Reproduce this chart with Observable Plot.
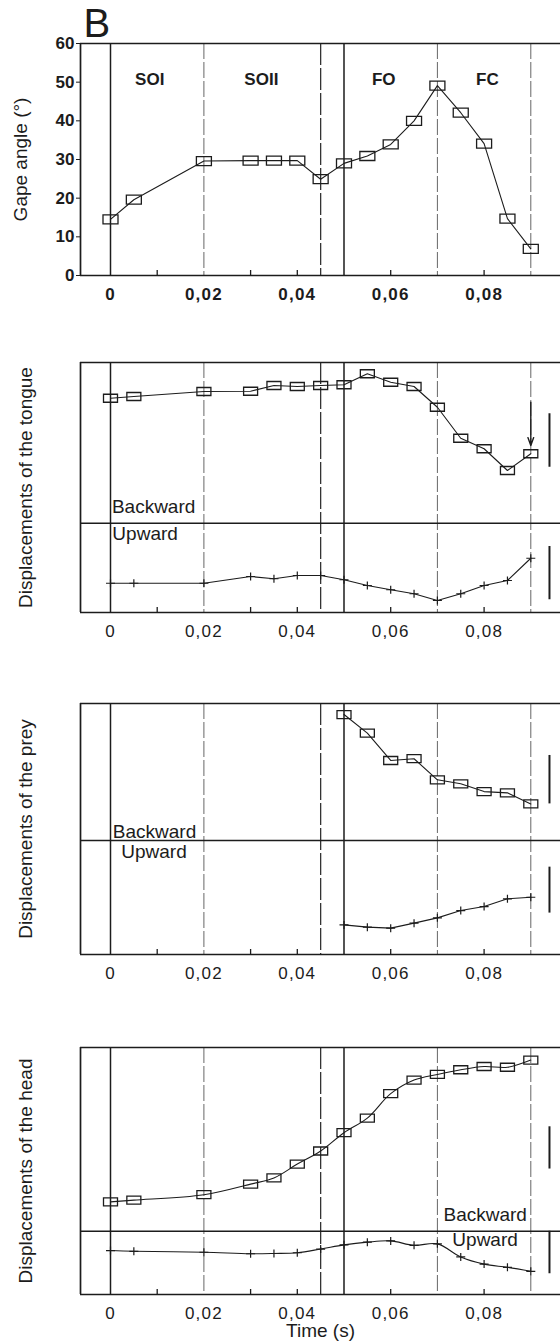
<!DOCTYPE html>
<html><head><meta charset="utf-8">
<script src="https://cdn.jsdelivr.net/npm/d3@7"></script>
<script src="https://cdn.jsdelivr.net/npm/@observablehq/plot@0.6"></script>
<style>
body{margin:0;background:#fff;overflow:hidden;}
#wrap{position:relative;width:560px;height:1342px;background:#fff;}
#wrap svg{position:absolute;left:0;}
</style></head><body><div id="wrap"></div>
<script>
// ---- data ----
const time = [0,0.005,0.02,0.03,0.035,0.04,0.045,0.05,0.055,0.06,0.065,0.07,0.075,0.08,0.085,0.09];
const gapeAngle = [14.5,19.6,29.6,29.7,29.7,29.7,24.9,29,30.9,33.9,40,49.1,42.1,34.1,14.7,6.9];
const tongueBackward = [85.7,86.4,88.4,88.5,90.8,90.4,90.8,91.1,95.5,92.1,90.4,82.1,69.7,65.5,56.8,63.5];
const tongueUpward = [11.7,11.7,11.7,14.4,13.5,14.8,14.8,13.1,10.8,9.1,7.5,4.8,7.5,10.8,12.8,21.7];
const preyTime = [0.05,0.055,0.06,0.065,0.07,0.075,0.08,0.085,0.09];
const preyBackward = [95.6,88.2,77.3,78,69.6,68,64.9,64.4,60];
const preyUpward = [11.8,10.9,10.5,12.5,14.6,17.5,19.1,22.2,22.8];
const headBackward = [37.5,38.2,40.4,44.7,47.2,52.8,58.1,65.5,71.4,81.3,86.8,89.1,91,92.3,92,94.9];
const headUpward = [17.8,17.5,17.1,16.5,16.6,16.9,18.4,20.1,21.2,21.7,19.9,20.5,15.2,12.3,11,9.4];

const phaseNames = ["SOI","SOII","FO","FC"];
const phaseCenters = [0.0084,0.0323,0.0585,0.0807];
const solidLines = [0,0.05];
const dashedLines = [0.02,0.07,0.09];
const darkDashedLines = [0.045];
const xLabelTicks = [0,0.02,0.04,0.06,0.08];
const xMinorTicks = [0.01,0.03,0.04,0.06,0.08];
const gapeTicks = [0,10,20,30,40,50,60];
const xDomain = [-0.006424,0.09636];
const gapeDomain = [0,60];
const dispDomain = [0,100];
const scaleBarTime = 0.094;

const tongueBase = 35.7, preyBase = 45.4, headBase = 25.6;
const tongueBars = [[79.5,58.1],[26.4,5.1]];
const preyBars = [[79.3,60],[34.8,16.5]];
const headBars = [[67.9,50.8],[25.6,8.4]];
const tongueLabels = [{t:0.0003,v:42.1,s:"Backward"},{t:0.0004,v:31.6,s:"Upward"}];
const preyLabels = [{t:0.0005,v:48.7,s:"Backward"},{t:0.0023,v:40.8,s:"Upward"}];
const headLabels = [{t:0.0713,v:32.1,s:"Backward"},{t:0.0732,v:22.1,s:"Upward"}];
const tongueArrow = [{t:0.09,from:84.1,to:66.8}];

// ---- helpers ----
const INK = "#1c1c1c";
const FONT = "'Liberation Sans', Arial, Helvetica, sans-serif";
const rectSym = (w,h) => ({draw(ctx){ ctx.rect(-w/2,-h/2,w,h); }});
const plusSym = {draw(ctx){ ctx.moveTo(-4.5,0); ctx.lineTo(4.5,0); ctx.moveTo(0,-4); ctx.lineTo(0,4); }};
const fmt = d => d === 0 ? "0" : d.toFixed(2).replace(".", ",");
const zip = (ts, vs) => ts.map((t,i) => ({t, v: vs[i]}));

function panel({top, height, mT, mB, yDomain, marks, bold}) {
  const inner = height - mT - mB;
  const svg = Plot.plot({
    width: 560, height, marginTop: mT, marginBottom: mB, marginLeft: 80, marginRight: 0,
    style: {fontFamily: FONT, fontSize: "17px", background: "transparent", color: INK},
    x: {domain: xDomain, label: null},
    y: {domain: yDomain, axis: null, label: null},
    marks: [
      Plot.ruleX(dashedLines, {stroke: "#666", strokeWidth: 1, strokeDasharray: "16,3"}),
      Plot.ruleX(darkDashedLines, {stroke: "#333", strokeWidth: 1.3, strokeDasharray: "22,3"}),
      Plot.ruleX(solidLines, {stroke: INK, strokeWidth: 1.5}),
      Plot.ruleX([xDomain[0]], {stroke: INK, strokeWidth: 1.7}),
      Plot.ruleY([yDomain[0]], {stroke: INK, strokeWidth: 1.7}),
      Plot.ruleY([yDomain[1]], {stroke: INK, strokeWidth: 1.6}),
      Plot.ruleX(xMinorTicks, {stroke: INK, strokeWidth: 1.3, insetTop: inner - 5}),
      Plot.axisX({ticks: xLabelTicks, tickFormat: fmt, tickSize: 0, tickPadding: 12, label: null,
                  fontSize: 17, fontWeight: bold ? "bold" : "normal", fill: INK}),
      ...marks
    ]
  });
  d3.select(svg).selectAll('g[aria-label="x-axis tick label"] text').style("letter-spacing", "1.2px");
  svg.style.top = top + "px";
  document.getElementById("wrap").appendChild(svg);
  return svg;
}

const lineOpts = {x: "t", y: "v", stroke: INK, strokeWidth: 1.1};
const sqOpts = (w,h) => ({x: "t", y: "v", symbol: rectSym(w,h), stroke: INK, strokeWidth: 1.3, fill: "none"});
const plOpts = {x: "t", y: "v", symbol: plusSym, stroke: INK, strokeWidth: 1.2, fill: "none"};
const yTitle = (s, dx) => Plot.text([s], {frameAnchor: "left", textAnchor: "middle", lineAnchor: "middle", rotate: -90, dx, fontSize: 19, fill: INK});
const bars = (b) => Plot.ruleX(b.map(([y1,y2]) => ({t: scaleBarTime, y1, y2})), {x: "t", y1: "y1", y2: "y2", stroke: INK, strokeWidth: 2});
const dirLabels = (L) => Plot.text(L, {x: "t", y: "v", text: "s", textAnchor: "start", fontSize: 19, fill: INK});

// Panel 1: gape angle
panel({top: 0, height: 310, mT: 43, mB: 35, yDomain: gapeDomain, bold: true, marks: [
  Plot.axisY({ticks: gapeTicks, tickSize: 4, tickPadding: 2, label: null, fontSize: 17, fontWeight: "bold", fill: INK, stroke: INK}),
  Plot.line(zip(time, gapeAngle), lineOpts),
  Plot.dot(zip(time, gapeAngle), sqOpts(15,9)),
  Plot.text(phaseNames, {x: (d,i) => phaseCenters[i], frameAnchor: "top", dy: 29, fontSize: 17, fontWeight: "bold", fill: INK}),
  yTitle("Gape angle (°)", -60),
  Plot.text(["B"], {frameAnchor: "top-left", dx: 3, dy: -7, lineAnchor: "bottom", textAnchor: "start", fontSize: 40, fill: INK})
]});

// Panel 2: tongue
panel({top: 330, height: 315, mT: 32, mB: 33, yDomain: dispDomain, marks: [
  Plot.ruleY([tongueBase], {stroke: INK, strokeWidth: 1.4}),
  Plot.line(zip(time, tongueBackward), lineOpts),
  Plot.dot(zip(time, tongueBackward), sqOpts(14,8)),
  Plot.line(zip(time, tongueUpward), lineOpts),
  Plot.dot(zip(time, tongueUpward), plOpts),
  Plot.arrow(tongueArrow, {x: "t", y1: "from", y2: "to", stroke: INK, strokeWidth: 1.4, headLength: 9, headAngle: 40}),
  bars(tongueBars),
  dirLabels(tongueLabels),
  yTitle("Displacements of the tongue", -55)
]});

// Panel 3: prey
panel({top: 670, height: 320, mT: 33, mB: 36, yDomain: dispDomain, marks: [
  Plot.ruleY([preyBase], {stroke: INK, strokeWidth: 1.4}),
  Plot.line(zip(preyTime, preyBackward), lineOpts),
  Plot.dot(zip(preyTime, preyBackward), sqOpts(14,8)),
  Plot.line(zip(preyTime, preyUpward), lineOpts),
  Plot.dot(zip(preyTime, preyUpward), plOpts),
  bars(preyBars),
  dirLabels(preyLabels),
  yTitle("Displacements of the prey", -55)
]});

// Panel 4: head
panel({top: 1005, height: 337, mT: 42, mB: 48, yDomain: dispDomain, marks: [
  Plot.ruleY([headBase], {stroke: INK, strokeWidth: 1.4}),
  Plot.line(zip(time, headBackward), {...lineOpts, curve: "catmull-rom"}),
  Plot.dot(zip(time, headBackward), sqOpts(14,8)),
  Plot.line(zip(time, headUpward), {...lineOpts, curve: "catmull-rom"}),
  Plot.dot(zip(time, headUpward), plOpts),
  bars(headBars),
  dirLabels(headLabels),
  yTitle("Displacements of the head", -55),
  Plot.text(["Time (s)"], {frameAnchor: "bottom", dy: 29, lineAnchor: "top", fontSize: 19, fill: INK})
]});
</script></body></html>
